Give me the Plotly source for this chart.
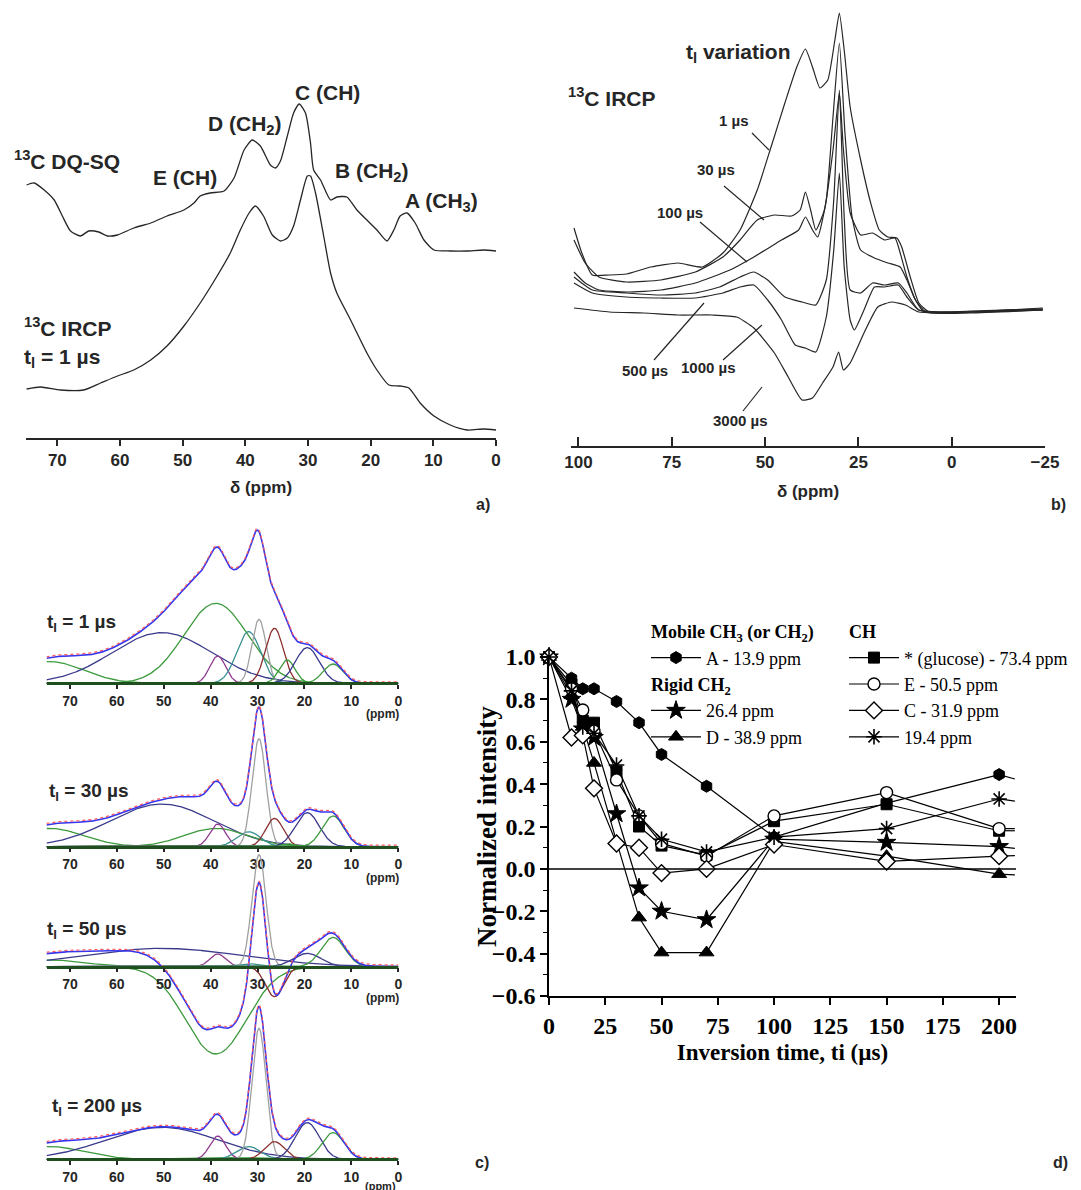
import numpy as np
import plotly.graph_objects as go

W, H = 1081, 1190
OFF = 8  # page body margin in the browser
def fx(x): return (x - OFF) / W
def fy(y): return 1 - (y - OFF) / H

SANS = "Liberation Sans, Arial, sans-serif"
SERIF = "Liberation Serif, Times New Roman, serif"
INK = "#262626"

# ---------------- a) spectra (ppm, relative intensity) ----------------
a_ppm_dq = [74.9, 73.7, 72.1, 70.5, 69.2, 67.9, 66.3, 65.0, 63.4, 62.0, 60.4, 57.8, 55.1, 52.5, 49.8, 48.2, 47.2, 45.6, 43.4, 41.8,
            40.2, 38.9, 37.6, 36.0, 35.2, 34.4, 33.3, 32.3, 31.4, 30.4, 29.6, 29.1, 28.0, 26.4, 25.4, 23.8, 22.2, 20.6, 19.0, 17.4,
            16.3, 15.3, 14.2, 12.9, 11.5, 9.9, 7.3, 4.6, 2.0, 0.0]
a_int_dq = [253, 255, 248, 238, 222, 207, 202, 207, 206, 202, 203, 210, 215, 222, 228, 235, 242, 245, 247, 260,
            288, 298, 292, 273, 270, 277, 302, 325, 334, 325, 295, 268, 258, 238, 241, 241, 228, 218, 208, 197,
            208, 222, 225, 215, 198, 188, 187, 187, 188, 187]
a_ppm_ir = [74.9, 72.7, 69.5, 65.8, 63.1, 60.4, 57.8, 55.1, 52.5, 49.8, 47.2, 44.5, 42.4, 40.8, 39.4, 38.4, 37.1, 35.7, 34.4, 33.3,
            32.3, 31.2, 30.1, 29.6, 28.8, 27.5, 26.4, 25.4, 23.2, 20.6, 19.0, 17.1, 15.3, 13.9, 12.1, 9.9, 7.3, 4.6, 2.0, 0.0]
a_int_ir = [49, 51, 48, 48, 55, 62, 68, 78, 92, 112, 135, 162, 185, 208, 225, 232, 222, 203, 197, 200,
            212, 238, 262, 262, 245, 202, 165, 145, 118, 85, 68, 53, 52, 50, 35, 22, 13, 8, 9, 8]

# ---------------- b) IRCP spectra for several t_l ----------------
b_names = ["1 µs", "30 µs", "100 µs", "500 µs", "1000 µs", "3000 µs"]
b_ppm_1 = [101.2, 99.1, 96.3, 91.7, 87.1, 80.6, 73.3, 66.8, 61.3, 56.7, 52.1, 48.4, 44.7, 41.5, 39.2, 37.3, 35.3, 33.2, 31.3, 30.1,
           28.8, 27.2, 24.4, 21.7, 19.4, 17.1, 14.7, 13.4, 11.1, 8.8, 6.0, -5.1, -24.4]
b_int_1 = [218, 193, 171, 171, 172, 179, 183, 179, 193, 216, 256, 299, 343, 379, 397, 379, 358, 366, 406, 433,
           396, 339, 286, 243, 216, 209, 208, 199, 169, 143, 134, 134, 138]
b_ppm_30 = [101.2, 98.2, 94.5, 87.1, 77.9, 68.7, 61.3, 56.7, 52.1, 47.5, 42.9, 40.6, 39.2, 37.8, 36.4, 34.1, 31.8, 30.1, 29.0, 27.2,
            24.4, 21.2, 18.0, 15.2, 13.8, 12.0, 9.7, 6.9, -5.0, -24.4]
b_int_30 = [206, 183, 169, 164, 166, 174, 189, 206, 226, 231, 230, 236, 254, 236, 216, 236, 296, 353, 296, 233,
            211, 213, 206, 208, 193, 169, 146, 134, 135, 137]
b_ppm_100 = [101.2, 98.2, 94.5, 87.1, 77.9, 68.7, 59.4, 53.0, 45.6, 41.0, 39.2, 37.3, 35.9, 33.6, 31.8, 30.1, 28.6, 26.7, 24.4, 20.7,
             17.1, 13.8, 12.0, 9.7, 7.4, -5.0, -24.4]
b_int_100 = [174, 163, 156, 154, 156, 163, 176, 189, 206, 216, 229, 216, 209, 246, 329, 403, 313, 229, 196, 188,
             183, 179, 166, 146, 134, 133, 136]
b_ppm_500 = [101.2, 96.3, 87.1, 77.9, 68.7, 62.2, 56.7, 53.0, 49.3, 44.7, 40.1, 36.4, 33.6, 31.6, 30.1, 28.8, 27.2, 24.4, 21.2, 18.0,
             14.3, 12.0, 8.8, -5.0, -24.4]
b_int_500 = [169, 156, 153, 151, 153, 159, 169, 174, 166, 149, 144, 141, 166, 246, 356, 229, 156, 153, 163, 161,
             163, 153, 136, 134, 137]
b_ppm_1000 = [101.2, 96.3, 87.1, 77.9, 68.7, 61.3, 56.7, 53.0, 49.3, 45.6, 41.9, 39.2, 36.4, 33.6, 31.6, 30.1, 28.8, 27.2, 26.1, 23.5,
              20.7, 18.0, 14.3, 12.0, 8.8, -5.0, -24.4]
b_int_1000 = [163, 153, 149, 148, 148, 153, 159, 161, 146, 126, 101, 98, 94, 129, 196, 273, 179, 126, 116, 136,
              159, 159, 161, 149, 136, 134, 136]
b_ppm_3000 = [101.2, 91.7, 82.5, 73.3, 64.1, 57.6, 53.0, 47.5, 43.8, 40.1, 37.3, 34.6, 31.8, 30.3, 29.0, 27.2, 23.5, 19.8, 16.1, 12.4,
              8.8, -5.0, -24.4]
b_int_3000 = [138, 134, 133, 131, 131, 129, 118, 93, 69, 46, 48, 63, 79, 94, 76, 83, 113, 139, 144, 141,
              134, 134, 136]

# ---------------- c) deconvolution components ----------------
c_titles = ["1 µs", "30 µs", "50 µs", "200 µs"]
c_centers = [74.3, 50.4, 38.9, 38.5, 31.9, 29.7, 26.4, 23.7, 19.4, 13.9]
c_colors = ["#3c9a3c", "#3a3a8c", "#3c9a3c", "#8e3a8e", "#3a9090", "#a0a0a0", "#8c3030", "#3c9a3c", "#3a3a8c", "#3c9a3c"]
c_height_1 = [21.7, 50.7, 80.0, 27.3, 51.7, 64.0, 55.0, 23.3, 35.7, 19.3]
c_height_30 = [18.3, 42.7, 18.3, 22.7, 15.0, 108.0, 28.3, 3.0, 34.0, 30.7]
c_height_50 = [6.7, 18.3, -87.3, 12.7, 3.0, 112.0, -30.0, 0.0, 13.3, 29.3]
c_height_200 = [12.7, 32.0, 2.0, 23.3, 12.7, 131.0, 17.7, 0.0, 36.7, 26.7]
c_fwhm_1 = [17, 25, 16, 4, 6, 3.5, 4.5, 4, 6, 5]
c_fwhm_30 = [17, 26, 16, 4, 6, 3.5, 4.5, 4, 6, 5.5]
c_fwhm_50 = [17, 40, 15.3, 4, 6, 3.5, 4.5, 4, 7, 6]
c_fwhm_200 = [17, 28, 16, 4, 6, 3.5, 5, 4, 6, 5.5]
c_ticks = [70, 60, 50, 40, 30, 20, 10, 0]

# ---------------- d) inversion recovery ----------------
d_ti = [0, 10, 15, 20, 30, 40, 50, 70, 100, 150, 200]
d_ti_edge = 207
d_series = [
    ("A - 13.9 ppm", [1.0, 0.90, 0.85, 0.85, 0.79, 0.69, 0.54, 0.39, 0.15, 0.31, 0.445], 0.424),
    ("26.4 ppm", [1.0, 0.80, 0.66, 0.62, 0.26, -0.09, -0.20, -0.24, 0.14, 0.125, 0.105], 0.097),
    ("D - 38.9 ppm", [1.0, 0.82, 0.67, 0.50, 0.13, -0.23, -0.395, -0.395, 0.13, 0.06, -0.025], -0.028),
    ("* (glucose) - 73.4 ppm", [1.0, 0.87, 0.70, 0.69, 0.46, 0.20, 0.11, 0.065, 0.225, 0.305, 0.18], 0.18),
    ("E - 50.5 ppm", [1.0, 0.85, 0.75, 0.65, 0.42, 0.25, 0.12, 0.06, 0.25, 0.36, 0.19], 0.19),
    ("C - 31.9 ppm", [1.0, 0.62, 0.63, 0.38, 0.12, 0.10, -0.02, 0.0, 0.115, 0.035, 0.06], 0.063),
    ("19.4 ppm", [1.0, 0.84, 0.67, 0.64, 0.49, 0.25, 0.14, 0.08, 0.15, 0.19, 0.33], 0.32),
]
d_style = {
    "A - 13.9 ppm": dict(symbol="hexagon", size=12, color="black", line=dict(color="black", width=1)),
    "26.4 ppm": dict(symbol="star", size=14, color="black", line=dict(color="black", width=1)),
    "D - 38.9 ppm": dict(symbol="triangle-up", size=13, color="black", line=dict(color="black", width=1)),
    "* (glucose) - 73.4 ppm": dict(symbol="square", size=11, color="black", line=dict(color="black", width=1)),
    "E - 50.5 ppm": dict(symbol="circle", size=12, color="white", line=dict(color="black", width=1.4)),
    "C - 31.9 ppm": dict(symbol="diamond", size=13, color="white", line=dict(color="black", width=1.4)),
    "19.4 ppm": dict(symbol="asterisk-open", size=13, color="black", line=dict(color="black", width=1.6)),
}
d_group = {
    "A - 13.9 ppm": ("legend", "mob", "<b>Mobile CH<sub>3</sub> (or CH<sub>2</sub>)</b>"),
    "26.4 ppm": ("legend", "rig", "<b>Rigid CH<sub>2</sub></b>"),
    "D - 38.9 ppm": ("legend", "rig", None),
    "* (glucose) - 73.4 ppm": ("legend2", "ch", "<b>CH</b>"),
    "E - 50.5 ppm": ("legend2", "ch", None),
    "C - 31.9 ppm": ("legend2", "ch", None),
    "19.4 ppm": ("legend2", "ch", None),
}

fig = go.Figure()

# ---- a)
for xs, ys in [(a_ppm_dq, a_int_dq), (a_ppm_ir, a_int_ir)]:
    fig.add_trace(go.Scatter(x=xs, y=ys, mode="lines", xaxis="x", yaxis="y", showlegend=False,
                             line=dict(color=INK, width=1.3, shape="spline", smoothing=0.6)))

# ---- b)
for xs, ys in [(b_ppm_1, b_int_1), (b_ppm_30, b_int_30), (b_ppm_100, b_int_100),
               (b_ppm_500, b_int_500), (b_ppm_1000, b_int_1000), (b_ppm_3000, b_int_3000)]:
    fig.add_trace(go.Scatter(x=xs, y=ys, mode="lines", xaxis="x2", yaxis="y2", showlegend=False,
                             line=dict(color=INK, width=1.2, shape="spline", smoothing=0.5)))

# ---- c)
c_grid = np.linspace(75, 0, 751)
c_sets = [(c_height_1, c_fwhm_1), (c_height_30, c_fwhm_30), (c_height_50, c_fwhm_50), (c_height_200, c_fwhm_200)]
for k, (hs, ws) in enumerate(c_sets):
    ax = str(3 + k)
    total = np.zeros_like(c_grid)
    for h, c, w, col in zip(hs, c_centers, ws, c_colors):
        g = h * np.exp(-4 * np.log(2) * (c_grid - c) ** 2 / w ** 2)
        total += g
        fig.add_trace(go.Scatter(x=c_grid, y=g, mode="lines", xaxis="x" + ax, yaxis="y" + ax, showlegend=False,
                                 line=dict(color=col, width=1.3)))
    fig.add_trace(go.Scatter(x=c_grid, y=total, mode="lines", xaxis="x" + ax, yaxis="y" + ax, showlegend=False,
                             line=dict(color="#3535ee", width=1.6)))
    fig.add_trace(go.Scatter(x=c_grid, y=total + 1.5, mode="lines", xaxis="x" + ax, yaxis="y" + ax, showlegend=False,
                             line=dict(color="#ff5a5a", width=1.2, dash="dot")))

# ---- d)
for name, vals, edge in d_series:
    fig.add_trace(go.Scatter(x=[d_ti[-1], d_ti_edge], y=[vals[-1], edge], mode="lines", xaxis="x7", yaxis="y7",
                             showlegend=False, line=dict(color="black", width=1.2)))
for name, vals, edge in d_series:
    leg, grp, gtitle = d_group[name]
    kw = dict(legendgrouptitle=dict(text=gtitle)) if gtitle else {}
    fig.add_trace(go.Scatter(x=d_ti, y=vals, mode="lines+markers", name=name, xaxis="x7", yaxis="y7",
                             line=dict(color="black", width=1.2), marker=d_style[name], cliponaxis=False,
                             legend=leg, legendgroup=grp, **kw))

fig.add_shape(type="line", xref="x7 domain", yref="y7", x0=0, x1=1, y0=0, y1=0, line=dict(color="black", width=1.5))

tick_a = dict(family=SANS, size=17, color=INK, weight="bold")
leg_font = dict(family=SERIF, size=18, color="black")
layout = dict(
    template="none",
    width=W, height=H, margin=dict(l=0, r=0, t=0, b=0, autoexpand=False), paper_bgcolor="white",
    plot_bgcolor="rgba(0,0,0,0)",
    xaxis=dict(domain=[fx(26), fx(496)], range=[75, 0], anchor="y", tickvals=list(range(0, 71, 10)), automargin=False,
               ticks="outside", ticklen=6, tickwidth=1.5, tickcolor=INK, showline=True, linecolor=INK, linewidth=1.5,
               showgrid=False, zeroline=False, tickfont=tick_a,
               title=dict(text="δ (ppm)", font=tick_a, standoff=12)),
    yaxis=dict(domain=[fy(438), fy(75)], range=[0, 363], visible=False, automargin=False),
    xaxis2=dict(domain=[fx(571), fx(1045)], range=[102, -25], anchor="y2", tickvals=[100, 75, 50, 25, 0, -25],
                automargin=False,
                ticks="inside", ticklen=9, tickwidth=1.5, tickcolor=INK, showline=True, linecolor=INK, linewidth=1.5,
                showgrid=False, zeroline=False, tickfont=tick_a,
                title=dict(text="δ (ppm)", font=tick_a, standoff=14)),
    yaxis2=dict(domain=[fy(446), fy(8)], range=[0, 438], visible=False, automargin=False),
    xaxis7=dict(domain=[fx(549), fx(1016)], range=[0, 207.5], anchor="y7", tickvals=list(range(0, 201, 25)),
                automargin=False,
                ticks="outside", ticklen=7, tickwidth=1.5, tickcolor="black", showline=True, linecolor="black",
                linewidth=1.5, showgrid=False, zeroline=False,
                tickfont=dict(family=SERIF, size=24, color="black", weight="bold"),
                title=dict(text="Inversion time, ti (µs)", font=dict(family=SERIF, size=23, color="black", weight="bold"),
                           standoff=6)),
    yaxis7=dict(domain=[fy(996), fy(657)], range=[-0.6, 1.0], anchor="x7", dtick=0.2, tickformat=".1f",
                automargin=False,
                ticks="outside", ticklen=7, tickwidth=1.5, tickcolor="black", showline=True, linecolor="black",
                linewidth=1.5, showgrid=False, zeroline=False,
                minor=dict(dtick=0.1, ticks="outside", ticklen=4, tickcolor="black", tickwidth=1),
                tickfont=dict(family=SERIF, size=24, color="black", weight="bold")),
    legend=dict(x=fx(646), y=fy(613), xanchor="left", yanchor="top", traceorder="grouped", tracegroupgap=0,
                itemwidth=50, bgcolor="rgba(0,0,0,0)", font=leg_font, grouptitlefont=leg_font),
    legend2=dict(x=fx(844), y=fy(613), xanchor="left", yanchor="top", traceorder="grouped", tracegroupgap=0,
                 itemwidth=50, bgcolor="rgba(0,0,0,0)", font=leg_font, grouptitlefont=leg_font),
)

# c) sub-axes (pixel rows of each baseline / domain)
c_rows = [(683.3, 688, 515), (846.7, 851, 700), (966.7, 1060, 848), (1159.3, 1164, 1005)]
tick_c = dict(family=SANS, size=14, color=INK, weight="bold")
for k, (base, bot, top) in enumerate(c_rows):
    n = 3 + k
    layout["xaxis%d" % n] = dict(domain=[fx(46.5), fx(398.3)], range=[75, 0], anchor="free", position=fy(base),
                                 tickvals=c_ticks, ticks="outside", ticklen=4, tickwidth=1.5, tickcolor=INK,
                                 automargin=False,
                                 showline=True, linecolor="#1f4f1f", linewidth=2.5, showgrid=False, zeroline=False,
                                 tickfont=tick_c)
    layout["yaxis%d" % n] = dict(domain=[fy(bot), fy(top)], range=[-(bot - base), base - top], anchor="x%d" % n,
                                 visible=False, automargin=False)
fig.update_layout(**layout)

ann = []
def text(x, y, t, size=21, anchor="center", font=SANS, color=INK, bold=True, angle=0):
    ann.append(dict(x=fx(x), y=fy(y), xref="paper", yref="paper", text=t, showarrow=False, xanchor=anchor,
                    yanchor="middle", textangle=angle,
                    font=dict(family=font, size=size, color=color, weight="bold" if bold else "normal")))

# a) labels
text(327, 93, "C (CH)")
text(245, 125, "D (CH<sub>2</sub>)")
text(12, 160, "<sup>13</sup>C DQ-SQ", anchor="left")
text(185, 178, "E (CH)")
text(372, 172, "B (CH<sub>2</sub>)")
text(441, 202, "A (CH<sub>3</sub>)")
text(22, 327, "<sup>13</sup>C IRCP", anchor="left")
text(22, 358, "t<sub>l</sub> = 1 µs", anchor="left")
text(483, 504, "a)", size=16)

# b) labels
text(684, 53, "t<sub>l</sub> variation", anchor="left")
text(566, 97, "<sup>13</sup>C IRCP", anchor="left")
b_lab = [(734, 120, (752, 133, 769, 150)), (716, 170, (724, 186, 764, 220)), (680, 212, (700, 222, 747, 262)),
         (645, 370, (654, 360, 704, 303)), (708, 367, (723, 360, 762, 325)), (740, 420, (743, 411, 762, 387))]
for nm, (lx, ly, (x0, y0, x1, y1)) in zip(b_names, b_lab):
    text(lx, ly, nm, size=15)
    fig.add_shape(type="line", xref="paper", yref="paper", x0=fx(x0), y0=fy(y0), x1=fx(x1), y1=fy(y1),
                  line=dict(color=INK, width=1.2))
text(1058, 504, "b)", size=16)

# c) labels
c_lab = [(45, 623), (47, 792), (45, 930), (50, 1107)]
for t, (lx, ly) in zip(c_titles, c_lab):
    text(lx, ly, "t<sub>l</sub> = " + t, size=19, anchor="left")
for k, (base, bot, top) in enumerate(c_rows):
    if k < 3:
        text(382, base + 31, "(ppm)", size=12)
    else:
        text(380, 1186, "(ppm)", size=11)
text(482, 1162, "c)", size=16)
text(1060, 1162, "d)", size=16)

# d) y title
text(487, 827, "Normalized intensity", size=27, font=SERIF, color="black", angle=-90)

fig.update_layout(annotations=ann)
fig.write_html("out.html")
